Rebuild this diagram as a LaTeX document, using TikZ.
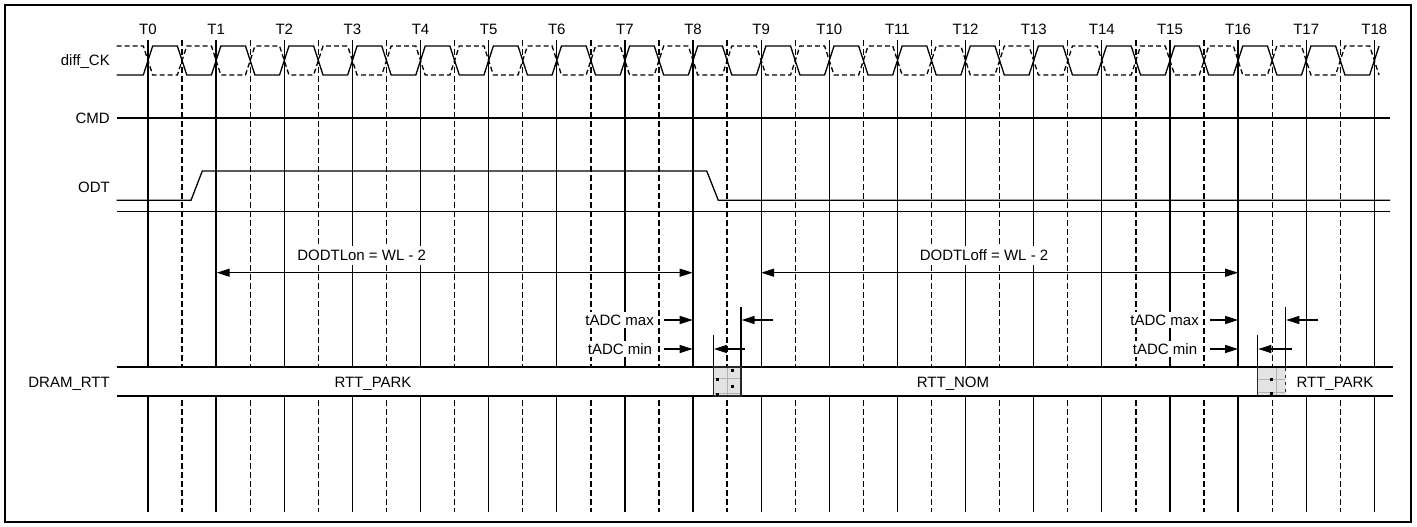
\documentclass[tikz,border=0pt]{standalone}
\usepackage{fontspec}
\setmainfont{Liberation Sans}
\usetikzlibrary{arrows.meta}
\begin{document}
\begin{tikzpicture}[x=1pt,y=-1pt,
  lbl/.style={font=\fontsize{15}{18}\selectfont, text height=10.7pt, text depth=0pt, inner sep=0pt},
  wlbl/.style={lbl, fill=white, inner xsep=3pt, inner ysep=4pt},
  sig/.style={line width=1.3pt},
  gridline/.style={line width=1.3pt},
  dgridline/.style={line width=1.3pt, dash pattern=on 6pt off 3pt},
  ckdash/.style={line width=1.3pt, dash pattern=on 5pt off 3pt},
  arr/.style={line width=1.3pt, -{Triangle[length=13pt,width=8pt]}},
  darr/.style={line width=1.3pt, {Triangle[length=13pt,width=8pt]}-{Triangle[length=13pt,width=8pt]}},
  greybox/.style={fill=gray!22, draw=black!85, line width=1.3pt},
  faint/.style={draw=gray!60, line width=0.6pt},
]
\useasboundingbox (0,0) rectangle (1417,527);
\draw[line width=2.5pt] (5,5) rectangle (1411,522);

% clock edge coordinates, grid lines and labels
\foreach \k in {0,...,18} {
  \coordinate (T\k) at ({148+\k*68.13},0);
  \draw[gridline] ({148+\k*68.13},40) -- ({148+\k*68.13},512);
  \node[lbl] (lT\k) at ({148+\k*68.13},29) {T\k};
}
\foreach \k in {0,...,17}
  \draw[dgridline] ({148+(\k+0.5)*68.13},40) -- ({148+(\k+0.5)*68.13},512);

% signal names
\node[lbl, anchor=east] (nck)  at (110,60.5) {diff\_CK};
\node[lbl, anchor=east] (ncmd) at (110,118) {CMD};
\node[lbl, anchor=east] (nodt) at (110,187.5) {ODT};
\node[lbl, anchor=east] (nrtt) at (110,381.7) {DRAM\_RTT};

% differential clock
\draw[sig] (116.7,75)
  \foreach \k [evaluate=\k as \yb using {60.5+14.5*cos(180*\k)},
               evaluate=\k as \ya using {60.5-14.5*cos(180*\k)}] in {0,...,36}
  { -- ({148+\k*34.065-4.7},\yb) -- ({148+\k*34.065+4.7},\ya) };
\draw[ckdash] (116.7,46)
  \foreach \k [evaluate=\k as \yb using {60.5-14.5*cos(180*\k)},
               evaluate=\k as \ya using {60.5+14.5*cos(180*\k)}] in {0,...,36}
  { -- ({148+\k*34.065-4.7},\yb) -- ({148+\k*34.065+4.7},\ya) };

% CMD
\draw[sig] (116.7,118) -- (1390,118);
% ODT
\draw[sig] (116.7,200.3) -- (191,200.3) -- (202.3,171) -- (706.7,171) -- (718.3,200.3) -- (1390,200.3);
\draw[sig] (116.7,211.7) -- (1390,211.7);

% DODTL labels and arrows
\node[wlbl] (don)  at (361.7,255.3) {DODTLon = WL - 2};
\node[wlbl] (doff) at (984,255.3) {DODTLoff = WL - 2};
\coordinate (a1) at (216.7,272.7);
\coordinate (a2) at (692.7,272.7);
\coordinate (b1) at (761.2,272.7);
\coordinate (b2) at (1238.1,272.7);
\draw[darr] (a1) -- (a2);
\draw[darr] (b1) -- (b2);

% tADC labels
\node[wlbl, anchor=east, inner ysep=3pt] (mx1) at (657,320) {tADC max};
\node[wlbl, anchor=east, inner ysep=3pt] (mn1) at (655.3,349) {tADC min};
\node[wlbl, anchor=east, inner ysep=3pt] (mx2) at (1202,320) {tADC max};
\node[wlbl, anchor=east, inner ysep=3pt] (mn2) at (1200.3,349) {tADC min};

\coordinate (p1) at (664,320);   \coordinate (q1) at (692.7,320);
\coordinate (p2) at (664,349);   \coordinate (q2) at (692.7,349);
\draw[arr] (p1) -- (q1);
\draw[arr] (p2) -- (q2);
\coordinate (p3) at (1210,320);  \coordinate (q3) at (1238.1,320);
\coordinate (p4) at (1210,349);  \coordinate (q4) at (1238.1,349);
\draw[arr] (p3) -- (q3);
\draw[arr] (p4) -- (q4);

% ticks and reverse arrows
\coordinate (k1t) at (741,307);    \coordinate (k1b) at (741,367);
\coordinate (k2t) at (713.3,335);  \coordinate (k2b) at (713.3,367);
\coordinate (k3t) at (1285.7,307); \coordinate (k3b) at (1285.7,367);
\coordinate (k4t) at (1257.7,335); \coordinate (k4b) at (1257.7,367);
\draw[sig] (k1t) -- (k1b);
\draw[sig] (k2t) -- (k2b);
\draw[sig] (k3t) -- (k3b);
\draw[sig] (k4t) -- (k4b);
\coordinate (r1) at (773.3,320);  \coordinate (s1) at (741.6,320);
\coordinate (r2) at (745,349);    \coordinate (s2) at (713.9,349);
\coordinate (r3) at (1318.3,320); \coordinate (s3) at (1286.3,320);
\coordinate (r4) at (1291.7,349); \coordinate (s4) at (1258.3,349);
\draw[arr] (r1) -- (s1);
\draw[arr] (r2) -- (s2);
\draw[arr] (r3) -- (s3);
\draw[arr] (r4) -- (s4);

% DRAM_RTT band
\fill[white] (116.7,367) rectangle (1393,396);
\draw[sig] (116.7,367) -- (1393,367);
\draw[sig] (116.7,396) -- (1393,396);

% transition boxes
\filldraw[greybox] (713.3,367) rectangle (741,396);
\draw[faint] (714,378) -- (740.3,378);
\draw[faint] (714,393) -- (740.3,393);
\draw[faint] (727,368) -- (727,395);
\fill (731.2,369.2) rectangle ++(3,3);
\fill (716.2,377.5) rectangle ++(3,3);
\fill (731.2,385.2) rectangle ++(3,3);
\fill (716.2,392.5) rectangle ++(3,3);

\fill[gray!22] (1257.7,367) rectangle (1285.7,396);
\draw[faint] (1258.4,379) -- (1285,379);
\draw[faint] (1258.4,392.7) -- (1285,392.7);
\draw[faint] (1276.7,368) -- (1276.7,395);
\draw[line width=1.3pt, draw=black!85] (1257.7,367) -- (1257.7,396);
\draw[line width=1.3pt, draw=black!85, dash pattern=on 3pt off 4pt] (1285.7,368) -- (1285.7,396);
\draw[sig] (1257.7,367) -- (1285.7,367);
\draw[sig] (1257.7,396) -- (1285.7,396);
\fill (1269.5,377.5) rectangle ++(3,3);
\fill (1269.5,391.8) rectangle ++(3,3);

% band texts
\node[lbl] (park1) at (373,381.7) {RTT\_PARK};
\node[lbl] (nom)   at (953,381.7) {RTT\_NOM};
\node[lbl] (park2) at (1335,381.7) {RTT\_PARK};
\end{tikzpicture}
\end{document}
